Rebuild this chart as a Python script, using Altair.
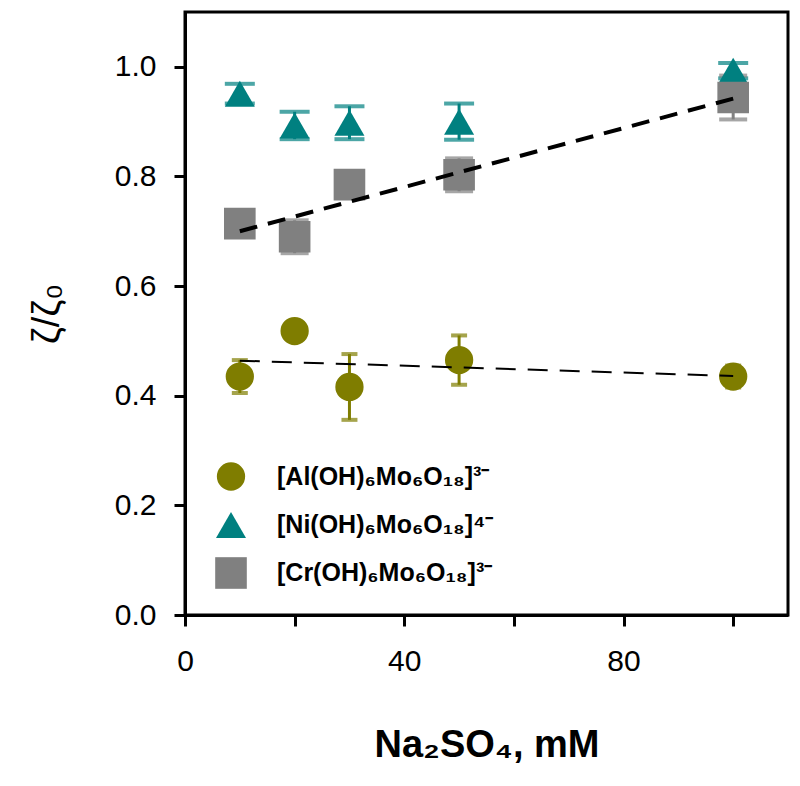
import altair as alt
import pandas as pd

# ---- data ----
x_mm = [10, 20, 30, 50, 100]

al_y = [0.435, 0.518, 0.416, 0.465, 0.435]
al_err = [0.030, 0.010, 0.060, 0.045, 0.020]

ni_y = [0.951, 0.893, 0.898, 0.900, 0.993]
ni_err = [0.018, 0.025, 0.030, 0.033, 0.014]

cr_y = [0.714, 0.690, 0.785, 0.803, 0.944]
cr_err = [0.020, 0.030, 0.015, 0.030, 0.040]

fit_x = [10, 100]
al_fit = [0.464, 0.436]
cr_fit = [0.700, 0.942]

series_names = ["[Al(OH)₆Mo₆O₁₈]³⁻", "[Ni(OH)₆Mo₆O₁₈]⁴⁻", "[Cr(OH)₆Mo₆O₁₈]³⁻"]
series_colors = ["#7f7d00", "#008080", "#808080"]
series_shapes = ["circle", "triangle-up", "square"]
series_sizes = [800, 1000, 680]
cap_widths = [16, 30, 28]

x_ticks = [0, 20, 40, 60, 80, 100]
y_ticks = [0.0, 0.2, 0.4, 0.6, 0.8, 1.0]

rows = []
for name, ys, es in zip(series_names, [al_y, ni_y, cr_y], [al_err, ni_err, cr_err]):
    for xv, yv, ev in zip(x_mm, ys, es):
        rows.append({"series": name, "x": xv, "y": yv, "lo": yv - ev, "hi": yv + ev})
df = pd.DataFrame(rows)

fit_rows = []
for name, ys in [("al", al_fit), ("cr", cr_fit)]:
    for xv, yv in zip(fit_x, ys):
        fit_rows.append({"fit": name, "x": xv, "y": yv})
fit_df = pd.DataFrame(fit_rows)

FONT = "Liberation Sans"

x_scale = alt.Scale(domain=[0, 110], nice=False, zero=False)
y_scale = alt.Scale(domain=[0, 1.1], nice=False, zero=False)

x_enc = alt.X(
    "x:Q",
    scale=x_scale,
    axis=alt.Axis(
        title="Na₂SO₄, mM",
        values=x_ticks,
        labelExpr="datum.value % 40 == 0 ? datum.label : ''",
        format="d",
        labelFlush=False,
        titleFontWeight="bold",
        titleFontSize=38,
        titlePadding=50,
        labelPadding=20,
    ),
)
y_enc = alt.Y(
    "y:Q",
    scale=y_scale,
    axis=alt.Axis(
        title="ζ/ζ₀",
        values=y_ticks,
        format=".1f",
        labelFlush=False,
        titleFontWeight="normal",
        titleFontSize=38,
        titlePadding=48,
        labelPadding=18,
    ),
)

base = alt.Chart(df)
layers = []
for name, col, cw in zip(series_names, series_colors, cap_widths):
    sub = base.transform_filter(alt.datum.series == name)
    layers.append(
        sub.mark_rule(strokeWidth=3, color=col).encode(
            x=alt.X("x:Q", scale=x_scale), y=alt.Y("lo:Q", scale=y_scale), y2="hi:Q"
        )
    )
    layers.append(
        sub.mark_tick(thickness=4, size=cw, color=col, orient="horizontal").encode(
            x=alt.X("x:Q", scale=x_scale), y=alt.Y("lo:Q", scale=y_scale)
        )
    )
    layers.append(
        sub.mark_tick(thickness=4, size=cw, color=col, orient="horizontal").encode(
            x=alt.X("x:Q", scale=x_scale), y=alt.Y("hi:Q", scale=y_scale)
        )
    )

points = base.mark_point(filled=True, opacity=1, strokeWidth=0).encode(
    x=x_enc,
    y=y_enc,
    color=alt.Color(
        "series:N",
        scale=alt.Scale(domain=series_names, range=series_colors),
        legend=alt.Legend(
            title=None,
            orient="none",
            legendX=30,
            legendY=450,
            labelFont=FONT,
            labelFontSize=25,
            labelFontWeight="bold",
            labelColor="black",
            symbolSize=850,
            symbolStrokeWidth=0,
            symbolOpacity=1,
            rowPadding=19,
            labelOffset=30,
            padding=0,
            labelLimit=400,
        ),
    ),
    shape=alt.Shape(
        "series:N", scale=alt.Scale(domain=series_names, range=series_shapes)
    ),
    size=alt.Size(
        "series:N",
        scale=alt.Scale(domain=series_names, range=series_sizes),
        legend=None,
    ),
)

al_line = (
    alt.Chart(fit_df)
    .transform_filter(alt.datum.fit == "al")
    .mark_line(color="black", strokeWidth=2, strokeDash=[20, 12])
    .encode(x=alt.X("x:Q", scale=x_scale), y=alt.Y("y:Q", scale=y_scale))
)
cr_line = (
    alt.Chart(fit_df)
    .transform_filter(alt.datum.fit == "cr")
    .mark_line(color="black", strokeWidth=4, strokeDash=[18, 11])
    .encode(x=alt.X("x:Q", scale=x_scale), y=alt.Y("y:Q", scale=y_scale))
)

chart = (
    alt.layer(*layers, points, al_line, cr_line)
    .properties(
        width=603,
        height=603,
        autosize=alt.AutoSizeParams(type="none"),
        padding={"left": 177, "top": 4, "right": 2, "bottom": 150},
    )
    .configure_view(stroke="black", strokeWidth=3)
    .configure_axis(
        grid=False,
        domainColor="black",
        domainWidth=3,
        tickColor="black",
        tickWidth=3,
        tickSize=11,
        labelFont=FONT,
        labelFontSize=30,
        labelColor="black",
        titleFont=FONT,
        titleColor="black",
    )
)

chart.save("out.html", embed_options={"renderer": "svg", "actions": False})
